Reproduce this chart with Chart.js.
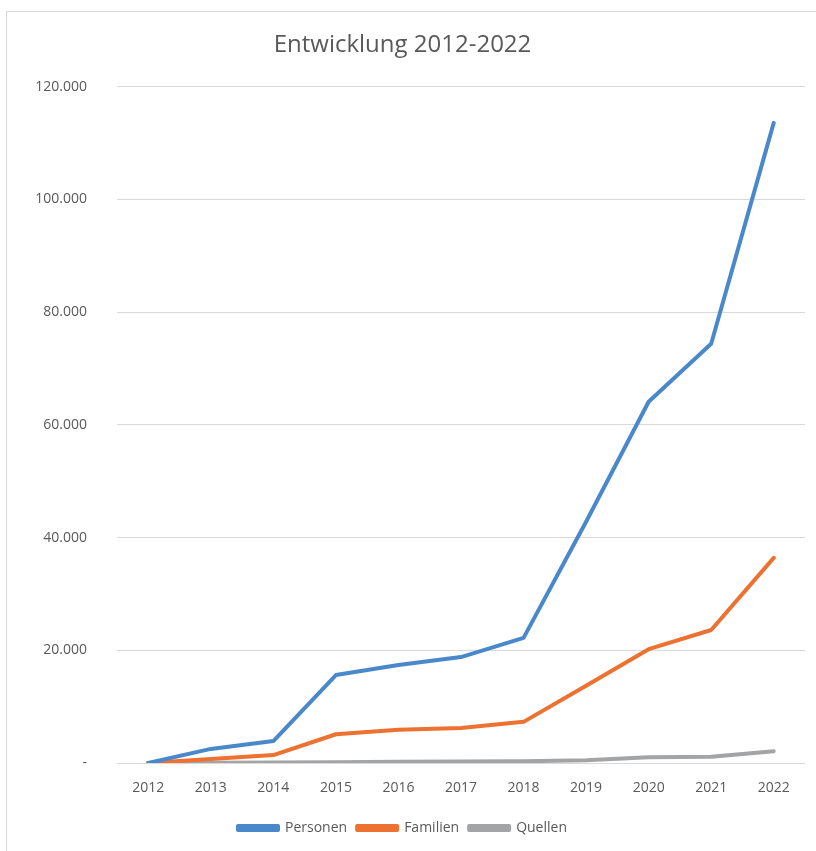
<!DOCTYPE html>
<html>
<head>
<meta charset="utf-8">
<script src="https://cdn.jsdelivr.net/npm/chart.js@4"></script>
<style>
  html, body { margin:0; padding:0; background:#fff; overflow:hidden; }
  #wrap { position:relative; width:816px; height:851px; }
  #frame { position:absolute; left:6px; top:11px; width:830px; height:860px; border:1px solid #d9d9d9; pointer-events:none; }
</style>
</head>
<body>
<div id="wrap">
  <canvas id="lineChart" width="816" height="851"></canvas>
  <div id="frame"></div>
</div>
<script>
/* Entwicklung 2012-2022 */
const years = ["2012","2013","2014","2015","2016","2017","2018","2019","2020","2021","2022"];
const personen = [0, 2500, 3900, 15600, 17400, 18800, 22200, 42800, 64100, 74400, 113600];
const familien = [0, 700, 1400, 5100, 5900, 6200, 7300, 13700, 20200, 23600, 36400];
const quellen  = [0, 50, 80, 150, 200, 250, 300, 500, 1000, 1100, 2100];
const yTicks = [0, 20000, 40000, 60000, 80000, 100000, 120000];

const textColor = "#595959";
const fontFam = "'Open Sans', 'Noto Sans', sans-serif";

const mkSet = (label, data, color) => ({
  label, data,
  borderColor: color,
  backgroundColor: color,
  borderWidth: 4,
  pointRadius: 0,
  tension: 0,
  borderJoinStyle: "round",
  borderCapStyle: "round"
});

const ctx = document.getElementById("lineChart").getContext("2d");
new Chart(ctx, {
  type: "line",
  data: {
    labels: years,
    datasets: [
      mkSet("Personen", personen, "#4a88cc"),
      mkSet("Familien", familien, "#ed7130"),
      mkSet("Quellen", quellen, "#a3a4a6")
    ]
  },
  options: {
    responsive: false,
    animation: false,
    layout: { padding: { top: 31, right: 11, bottom: 6, left: 0 } },
    plugins: {
      title: {
        display: true,
        text: "Entwicklung 2012-2022",
        color: textColor,
        font: { family: fontFam, size: 24, weight: "normal" },
        padding: { top: 0, bottom: 27 }
      },
      legend: {
        position: "bottom",
        labels: {
          color: textColor,
          font: { family: fontFam, size: 14 },
          boxWidth: 40,
          boxHeight: 4,
          padding: 10
        }
      },
      tooltip: { enabled: false }
    },
    scales: {
      x: {
        offset: true,
        grid: { display: false },
        border: { display: false },
        ticks: { color: textColor, font: { family: fontFam, size: 14 }, padding: 9 },
        afterFit: (s) => { s.height = 48; }
      },
      y: {
        min: 0,
        max: 120000,
        afterBuildTicks: (s) => { s.ticks = yTicks.map(v => ({ value: v })); },
        grid: { color: "#d9d9d9", lineWidth: 1, drawTicks: false },
        border: { display: false },
        ticks: {
          color: textColor,
          font: { family: fontFam, size: 14 },
          padding: 30,
          callback: (v) => v === 0 ? "-" : v.toLocaleString("de-DE")
        },
        afterFit: (s) => { s.width = 117; }
      }
    }
  }
});
</script>
</body>
</html>
